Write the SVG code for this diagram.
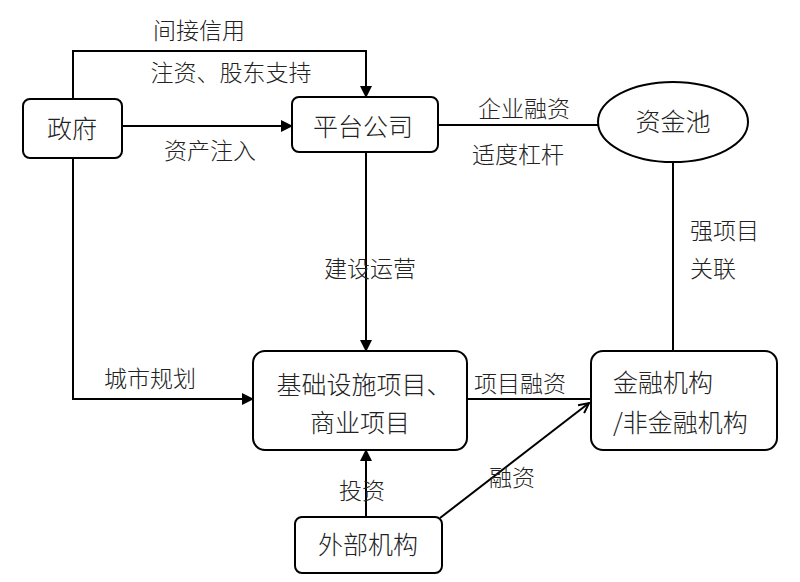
<svg xmlns="http://www.w3.org/2000/svg" width="800" height="582" viewBox="0 0 800 582">
<defs>
<marker id="tri" markerWidth="12" markerHeight="12" refX="11" refY="6" orient="auto" markerUnits="userSpaceOnUse">
<path d="M0,0 L12,6 L0,12 Z" fill="#000"/>
</marker>
<marker id="open" markerWidth="12" markerHeight="12" refX="11" refY="6" orient="auto" markerUnits="userSpaceOnUse">
<path d="M1,1 L11,6 L1,11" fill="none" stroke="#000" stroke-width="2"/>
</marker>
</defs>
<style>
.box{fill:#fff;stroke:#000;stroke-width:2}
.t{font-family:"Noto Sans CJK SC","Noto Sans",sans-serif;font-size:25px;font-weight:300;fill:#222}
.l{font-family:"Noto Sans CJK SC","Noto Sans",sans-serif;font-size:23px;font-weight:300;fill:#222}
.c{fill:none;stroke:#000;stroke-width:2}
</style>
<rect width="800" height="582" fill="#fff"/>
<g id="connectors">
<path class="c" d="M73,99 V51 H366 V97" marker-end="url(#tri)"/>
<path class="c" d="M122,126 H292" marker-end="url(#tri)"/>
<path class="c" d="M366,152 V351" marker-end="url(#tri)"/>
<path class="c" d="M438,125 H598"/>
<path class="c" d="M673,162 V351"/>
<path class="c" d="M73,158 V399 H253" marker-end="url(#tri)"/>
<path class="c" d="M467,399 H591"/>
<path class="c" d="M366,517 V450" marker-end="url(#tri)"/>
<path class="c" d="M440,518 L589,403" marker-end="url(#open)"/>
</g>
<g id="labels">
<text class="l" x="199" y="39" text-anchor="middle">间接信用</text>
<text class="l" x="231" y="81" text-anchor="middle">注资、股东支持</text>
<text class="l" x="210" y="159" text-anchor="middle">资产注入</text>
<text class="l" x="524" y="117" text-anchor="middle">企业融资</text>
<text class="l" x="518" y="163" text-anchor="middle">适度杠杆</text>
<text class="l" x="370" y="277" text-anchor="middle">建设运营</text>
<text class="l" x="690" y="239">强项目</text>
<text class="l" x="690" y="277">关联</text>
<text class="l" x="150" y="387" text-anchor="middle">城市规划</text>
<text class="l" x="520" y="392" text-anchor="middle">项目融资</text>
<text class="l" x="362" y="499" text-anchor="middle">投资</text>
<text class="l" x="512" y="486" text-anchor="middle">融资</text>
</g>
<g id="gov">
<rect class="box" x="23" y="99" width="99" height="59" rx="7"/>
<text class="t" x="72" y="138" text-anchor="middle">政府</text>
</g>
<g id="platform">
<rect class="box" x="292" y="97" width="146" height="55" rx="7"/>
<text class="t" x="363" y="136" text-anchor="middle">平台公司</text>
</g>
<g id="pool">
<ellipse class="box" cx="673" cy="122" rx="75" ry="40"/>
<text class="t" x="673" y="131" text-anchor="middle">资金池</text>
</g>
<g id="project">
<rect class="box" x="253" y="351" width="214" height="99" rx="12"/>
<text class="t" x="364" y="394" text-anchor="middle">基础设施项目、</text>
<text class="t" x="360" y="432" text-anchor="middle">商业项目</text>
</g>
<g id="finance">
<rect class="box" x="591" y="351" width="186" height="99" rx="12"/>
<text class="t" x="613" y="392">金融机构</text>
<text class="t" x="613" y="432">/非金融机构</text>
</g>
<g id="external">
<rect class="box" x="295" y="517" width="147" height="56" rx="7"/>
<text class="t" x="368" y="554" text-anchor="middle">外部机构</text>
</g>
</svg>
